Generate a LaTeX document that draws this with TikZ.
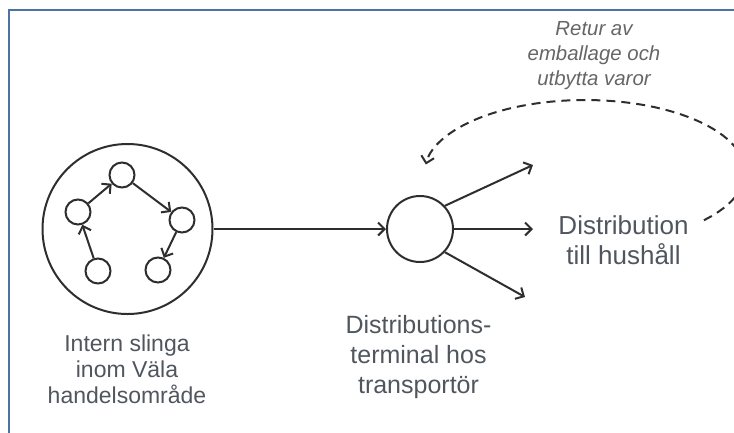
\documentclass[tikz,border=0pt]{standalone}
\usepackage{fontspec}
\setmainfont{Liberation Sans}
\usetikzlibrary{arrows.meta}
\definecolor{frameblue}{HTML}{4F72A6}
\definecolor{linegray}{HTML}{2E2E2E}
\definecolor{textgray}{HTML}{50565E}
\definecolor{notegray}{HTML}{666666}
\tikzset{
  conn/.style={draw=linegray, line width=2pt, -{Straight Barb[length=6.5pt,width=13pt,line width=2pt]}},
  smallc/.style={circle, draw=linegray, line width=2pt, minimum size=25pt, inner sep=0pt},
  bigc/.style={circle, draw=linegray, line width=2pt, minimum size=170pt, inner sep=0pt},
  termc/.style={circle, draw=linegray, line width=2pt, minimum size=66pt, inner sep=0pt},
  label/.style={text=textgray, align=center, inner sep=0pt},
}
\begin{document}
\begin{tikzpicture}[x=1pt,y=-1pt]
\useasboundingbox (0,0) rectangle (734,432);
% frame
\draw[frameblue, line width=2.2pt] (9,440) -- (9,10) -- (745,10);
% big circle with internal loop
\node[bigc] (big) at (127.5,229) {};
\node[smallc] (c1) at (98,271) {};
\node[smallc] (c2) at (78,212) {};
\node[smallc] (c3) at (122,175) {};
\node[smallc] (c4) at (182,220) {};
\node[smallc] (c5) at (158,270) {};
\draw[conn] (c1) -- (c2);
\draw[conn] (c2) -- (c3);
\draw[conn] (c3) -- (c4);
\draw[conn] (c4) -- (c5);
% terminal
\node[termc] (term) at (420,229) {};
\draw[conn] (big.east) -- (term.west);
\coordinate (o1) at (533,165);
\coordinate (o2) at (533,229);
\coordinate (o3) at (525,297);
\draw[conn] (term.43) -- (o1);
\draw[conn] (term.east) -- (o2);
\draw[conn] (term.-43) -- (o3);
% return loop
\coordinate (retstart) at (703.9,220.2);
\draw[conn, dash pattern=on 9pt off 6pt]
  (retstart) arc[start angle=42, end angle=-174, x radius=160, y radius=72];
% labels
\node[label, anchor=base, font=\fontsize{23}{26}\selectfont] (lbl1) at (127,403)
  {Intern slinga\\inom Väla\\handelsområde};
\node[label, anchor=base, font=\fontsize{25}{30}\selectfont] (lbl2) at (418.5,393)
  {Distributions-\\terminal hos\\transportör};
\node[label, anchor=base, font=\fontsize{26}{30}\selectfont] (lbl3) at (623.5,264)
  {Distribution\\till hushåll};
\node[label, anchor=base, text=notegray, font=\fontsize{20.4}{25}\selectfont\itshape] (lbl4) at (594,85)
  {Retur av\\emballage och\\utbytta varor};
\end{tikzpicture}
\end{document}
